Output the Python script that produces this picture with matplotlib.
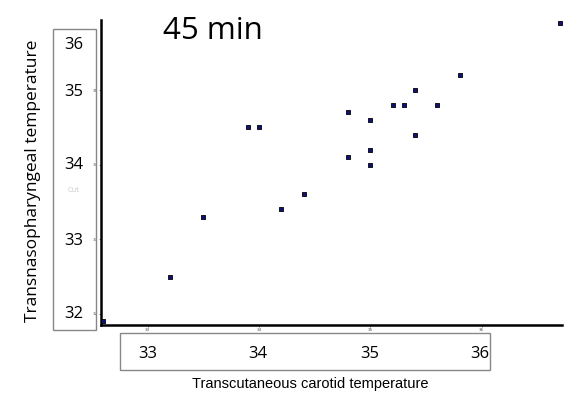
import matplotlib.pyplot as plt
from matplotlib.patches import Rectangle

# 45 min readings
carotid = [36.7, 35.8, 35.4, 35.2, 35.3, 35.6, 34.8, 35.0, 33.9, 34.0,
           35.4, 35.0, 34.8, 35.0, 34.4, 34.2, 33.5, 33.2, 32.6]
nasal = [35.9, 35.2, 35.0, 34.8, 34.8, 34.8, 34.7, 34.6, 34.5, 34.5,
         34.4, 34.2, 34.1, 34.0, 33.6, 33.4, 33.3, 32.5, 31.9]

x_ticks = [33, 34, 35, 36]
y_ticks = [32, 33, 34, 35]
x_box_labels = ['33', '34', '35', '36']
y_box_labels = ['36', '35', '34', '33', '32']

W, H = 573, 397
fig = plt.figure(figsize=(W / 100, H / 100), dpi=100)
ax = fig.add_axes([101 / W, 1 - 325 / H, (562 - 101) / W, (325 - 20) / H])

ax.scatter(carotid, nasal, marker='s', s=12, c='#10107a',
           edgecolors='black', linewidths=0.6, zorder=3)

ax.set_xlim(32.58, 36.72)
ax.set_ylim(31.85, 35.94)
ax.set_xticks(x_ticks)
ax.set_yticks(y_ticks)
ax.tick_params(labelsize=3, length=1.5, width=0.5, colors='#555555', pad=1)
for s in ['top', 'right']:
    ax.spines[s].set_visible(False)
for s in ['left', 'bottom']:
    ax.spines[s].set_linewidth(1.8)

# title
fig.text(163 / W, 1 - 31 / H, '45 min', fontsize=22.5, family='Open Sans',
         va='center', ha='left')

# boxed y labels
fig.add_artist(Rectangle((53 / W, 1 - 330 / H), 43 / W, 301 / H,
                         transform=fig.transFigure, fill=False,
                         edgecolor='#888888', lw=1))
y_pos = [45, 92, 165, 241, 314]
for lab, yp in zip(y_box_labels, y_pos):
    fig.text(74 / W, 1 - yp / H, lab, fontsize=12, family='Open Sans',
             ha='center', va='center')
fig.text(74 / W, 1 - 190 / H, 'Cut', fontsize=5, color='#cccccc',
         ha='center', va='center')

# boxed x labels
fig.add_artist(Rectangle((120 / W, 1 - 370 / H), 370 / W, 37 / H,
                         transform=fig.transFigure, fill=False,
                         edgecolor='#888888', lw=1))
x_pos = [148, 258, 370, 480]
for lab, xp in zip(x_box_labels, x_pos):
    fig.text(xp / W, 1 - 354 / H, lab, fontsize=12, family='Open Sans',
             ha='center', va='center')

fig.text(33 / W, 1 - 181 / H, 'Transnasopharyngeal temperature',
         fontsize=12.5, family='Open Sans', rotation=90,
         ha='center', va='center')
fig.text(310 / W, 1 - 384 / H, 'Transcutaneous carotid temperature',
         fontsize=10.5, family='Liberation Sans', ha='center', va='center')

fig.savefig('out.png', dpi=100)
